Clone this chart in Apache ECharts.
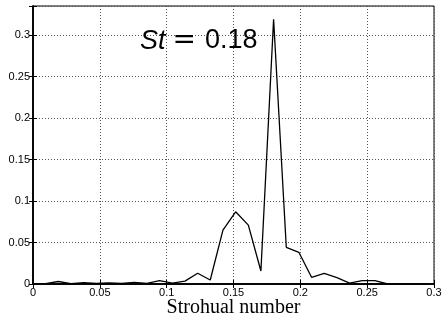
<!DOCTYPE html>
<html>
<head>
<meta charset="utf-8">
<script src="https://cdn.jsdelivr.net/npm/echarts@6/dist/echarts.min.js"></script>
<style>
  html, body { margin: 0; padding: 0; background: #fff; }
  #chart { width: 444px; height: 313px; }
</style>
</head>
<body>
<div id="chart"></div>
<script>
// Strouhal number (frequency bins) and spectrum amplitude
var strouhal = [0, 0.0095, 0.0189, 0.0284, 0.0379, 0.0474, 0.0568, 0.0663, 0.0758, 0.0853,
  0.0947, 0.1042, 0.1137, 0.1232, 0.1326, 0.1421, 0.1516, 0.1611, 0.1705, 0.18,
  0.1895, 0.1989, 0.2084, 0.2179, 0.2274, 0.2368, 0.2463, 0.2558, 0.2653, 0.2747,
  0.2842, 0.2937];
var amplitude = [0, 0.0005, 0.003, 0.0005, 0.0015, 0.0008, 0.0012, 0.0008, 0.002, 0.0008,
  0.004, 0.001, 0.0035, 0.0129, 0.0048, 0.065, 0.087, 0.071, 0.0157, 0.319,
  0.0442, 0.0382, 0.0081, 0.0129, 0.0076, 0.001, 0.004, 0.004, 0, 0,
  0, 0];
var xTicks = [0, 0.05, 0.1, 0.15, 0.2, 0.25, 0.3];
var yTicks = [0, 0.05, 0.1, 0.15, 0.2, 0.25, 0.3];

var chart = echarts.init(document.getElementById("chart"));

var points = strouhal.map(function (s, i) {
  return [s, amplitude[i]];
});

var gridLine = {
  show: true,
  lineStyle: { color: "#555", width: 1, type: [1, 2] },
};
var tickFont = { fontFamily: "Liberation Sans", fontSize: 11, color: "#000" };

function tickLabel(list) {
  return function (v) {
    for (var i = 0; i < list.length; i++) {
      if (Math.abs(list[i] - v) < 1e-9) return String(list[i]);
    }
    return "";
  };
}

chart.setOption({
  animation: false,
  grid: {
    left: 33,
    right: 10,
    top: 6,
    bottom: 29,
    outerBoundsMode: "none",
    containLabel: false,
    show: true,
    borderColor: "#000",
    borderWidth: 1,
  },
  title: {
    text: "{it|St}{eq|=}{num|0.18}",
    left: 140,
    top: 27,
    padding: 0,
    textStyle: {
      fontWeight: "normal",
      rich: {
        it: { fontFamily: "Liberation Sans", fontStyle: "italic", fontWeight: "normal", fontSize: 27, color: "#000" },
        eq: { fontFamily: "DejaVu Sans", fontWeight: "normal", fontSize: 28, color: "#000", padding: [0, 9, 0, 7] },
        num: { fontFamily: "Liberation Sans", fontWeight: "normal", fontSize: 27, color: "#000" },
      },
    },
  },
  xAxis: [
    {
      type: "value",
      min: 0,
      max: 0.3,
      interval: 0.05,
      name: "Strohual number",
      nameLocation: "middle",
      nameGap: 14,
      nameMoveOverlap: false,
      nameTextStyle: { fontFamily: "Liberation Serif", fontSize: 20, color: "#000", verticalAlign: "top" },
      axisLine: { show: true, onZero: false, lineStyle: { color: "#000", width: 1.5 } },
      axisTick: { show: true, inside: true, length: 4, lineStyle: { color: "#000" } },
      axisLabel: Object.assign({ margin: 3, formatter: tickLabel(xTicks) }, tickFont),
      splitLine: gridLine,
    },
    {
      type: "value",
      position: "top",
      min: 0,
      max: 0.3,
      interval: 0.05,
      axisLine: { show: true, lineStyle: { color: "#000", width: 1.5 } },
      axisTick: { show: true, inside: true, length: 4, lineStyle: { color: "#000" } },
      axisLabel: { show: false },
      splitLine: { show: false },
    },
  ],
  yAxis: [
    {
      type: "value",
      min: 0,
      max: 0.335,
      interval: 0.05,
      axisLine: { show: true, onZero: false, lineStyle: { color: "#000", width: 1.5 } },
      axisTick: { show: true, inside: true, length: 4, lineStyle: { color: "#000" } },
      axisLabel: Object.assign({ margin: 3, formatter: tickLabel(yTicks) }, tickFont),
      splitLine: gridLine,
    },
    {
      type: "value",
      position: "right",
      min: 0,
      max: 0.335,
      interval: 0.05,
      axisLine: { show: true, lineStyle: { color: "#000", width: 1.5 } },
      axisTick: { show: true, inside: true, length: 4, lineStyle: { color: "#000" } },
      axisLabel: { show: false },
      splitLine: { show: false },
    },
  ],
  series: [
    {
      type: "line",
      data: points,
      showSymbol: false,
      lineStyle: { color: "#000", width: 1.3 },
    },
  ],
});
</script>
</body>
</html>
